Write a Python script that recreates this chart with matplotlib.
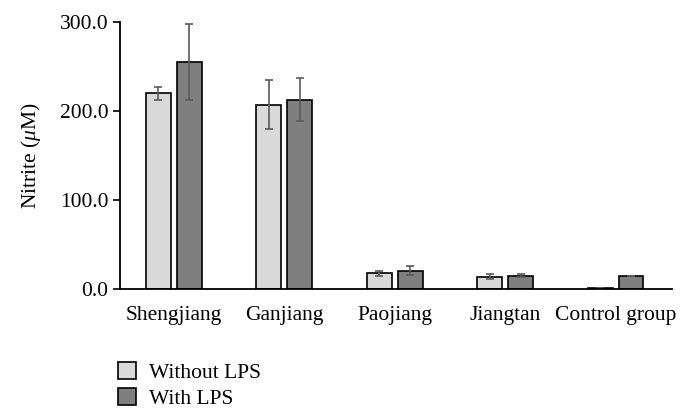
import matplotlib.pyplot as plt
import numpy as np

plt.rcParams['font.family'] = ['Liberation Serif', 'DejaVu Serif']
plt.rcParams['mathtext.fontset'] = 'custom'
plt.rcParams['mathtext.rm'] = 'Liberation Serif'
plt.rcParams['mathtext.it'] = 'Liberation Serif:italic'

# data
groups = ['Shengjiang', 'Ganjiang', 'Paojiang', 'Jiangtan', 'Control group']
without_lps = [220.0, 207.5, 17.6, 13.8, 1.0]
without_err = [7.0, 28.0, 3.0, 2.8, 0.0]
with_lps = [255.0, 213.0, 20.6, 15.0, 14.3]
with_err = [43.0, 24.5, 5.0, 1.7, 0.0]

fig = plt.figure(figsize=(6.92, 4.19), dpi=100)
ax = fig.add_axes([0.173, 0.310, 0.798, 0.637])

x = np.arange(len(groups))
w = 0.225
off = 0.14
ekw = dict(ecolor='#5a5a5a', elinewidth=1.2, capsize=3, capthick=1.2)
ax.bar(x - off, without_lps, w, yerr=without_err, color='#d9d9d9',
       edgecolor='black', linewidth=1.2, error_kw=ekw, label='Without LPS')
ax.bar(x + off, with_lps, w, yerr=with_err, color='#7f7f7f',
       edgecolor='black', linewidth=1.2, error_kw=ekw, label='With LPS')

ax.set_xlim(-0.49, 4.51)
ax.set_ylim(0, 300)
ax.set_yticks([0, 100, 200, 300])
ax.set_yticklabels(['0.0', '100.0', '200.0', '300.0'])
ax.set_xticks(x)
ax.set_xticklabels(groups)
ax.tick_params(axis='x', length=0, pad=12, labelsize=15.5)
ax.tick_params(axis='y', length=5, width=1.2, pad=3, labelsize=15.5)
ax.set_ylabel(r'Nitrite ($\mu$M)', fontsize=15.5, labelpad=12)
for s in ['top', 'right']:
    ax.spines[s].set_visible(False)
for s in ['left', 'bottom']:
    ax.spines[s].set_linewidth(1.3)

fig.legend(loc='upper left', bbox_to_anchor=(0.155, 0.162), frameon=False,
           fontsize=15.5, handlelength=0.85, handleheight=0.85,
           handletextpad=0.6, labelspacing=0.25, borderpad=0)

fig.savefig('out.png', dpi=100)
